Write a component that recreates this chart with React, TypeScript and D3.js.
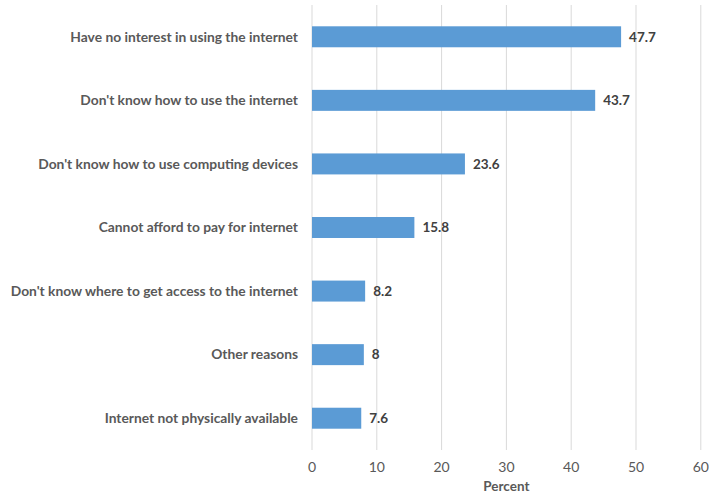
import React from "react";
import * as d3 from "d3";

const categories = [
  "Have no interest in using the internet",
  "Don't know how to use the internet",
  "Don't know how to use computing devices",
  "Cannot afford to pay for internet",
  "Don't know where to get access to the internet",
  "Other reasons",
  "Internet not physically available",
];
const values = [47.7, 43.7, 23.6, 15.8, 8.2, 8, 7.6];
const xTicks = [0, 10, 20, 30, 40, 50, 60];
const xTitle = "Percent";

export default function App() {
  const W = 709, H = 495;
  const left = 312, right = 700.8, top = 5, bottom = 450;
  const x = d3.scaleLinear().domain([0, 60]).range([left, right]);
  const y = d3.scaleBand<string>().domain(categories).range([top, bottom]).paddingInner(0.67).paddingOuter(0.335);
  const font = "Lato, 'Open Sans', sans-serif";
  return (
    <svg width={W} height={H} style={{ position: "absolute", left: 0, top: 0, background: "#fff" }} fontFamily={font}>
      {xTicks.map((t) => (
        <line key={"g" + t} x1={x(t)} x2={x(t)} y1={top} y2={bottom} stroke="#d9d9d9" strokeWidth={1} />
      ))}
      {categories.map((c, i) => (
        <g key={c}>
          <rect x={x(0)} y={y(c)} width={x(values[i]) - x(0)} height={y.bandwidth()} fill="#5b9bd5" />
          <text x={left - 14} y={(y(c) as number) + y.bandwidth() / 2} dy="0.35em" textAnchor="end" fontSize={13.8} fontWeight={700} fill="#595959">{c}</text>
          <text x={x(values[i]) + 8} y={(y(c) as number) + y.bandwidth() / 2} dy="0.35em" fontSize={13.5} fontWeight={700} fill="#404040">{String(values[i])}</text>
        </g>
      ))}
      {xTicks.map((t) => (
        <text key={"t" + t} x={x(t)} y={467} dy="0.35em" textAnchor="middle" fontSize={14} fill="#595959">{t}</text>
      ))}
      <text x={(left + right) / 2} y={486.5} dy="0.35em" textAnchor="middle" fontSize={13.5} fontWeight={700} fill="#595959">{xTitle}</text>
    </svg>
  );
}
